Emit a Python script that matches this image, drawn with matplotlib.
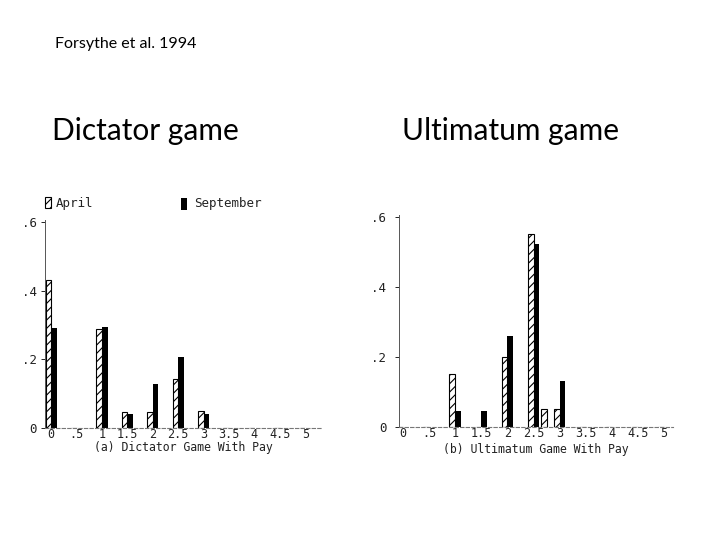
import matplotlib
matplotlib.use("Agg")
import matplotlib.pyplot as plt
from matplotlib.patches import Rectangle

# Data
offers_d = [0, 0.5, 1, 1.5, 2, 2.5, 3, 3.5, 4, 4.5, 5]
april_d = [0.43, 0, 0.288, 0.047, 0.048, 0.143, 0.05, 0, 0, 0, 0]
sept_d = [0.29, 0, 0.293, 0.04, 0.128, 0.207, 0.04, 0, 0, 0, 0]

offers_u = [0, 0.5, 1, 1.5, 2, 2.5, 2.75, 3, 3.5, 4, 4.5, 5]
april_u = [0, 0, 0.152, 0, 0.201, 0.551, 0.051, 0.051, 0, 0, 0, 0]
sept_u = [0, 0, 0.047, 0.047, 0.261, 0.522, 0, 0.132, 0, 0, 0, 0]

xticks = [0, 0.5, 1, 1.5, 2, 2.5, 3, 3.5, 4, 4.5, 5]
xticklabels = ["0", ".5", "1", "1.5", "2", "2.5", "3", "3.5", "4", "4.5", "5"]
yticks = [0, 0.2, 0.4, 0.6]
yticklabels = ["0", ".2", ".4", ".6"]

plt.rcParams['hatch.linewidth'] = 0.8
mono = "DejaVu Sans Mono"
W = 0.11

fig = plt.figure(figsize=(7.2, 5.4), dpi=100)

def panel(rect, xlim, offers, apr, sep, xlabel, ypad, lpad):
    ax = fig.add_axes(rect)
    ax.bar(offers, apr, width=-W, align='edge', facecolor='white',
           edgecolor='black', hatch='////', linewidth=0.8)
    ax.bar(offers, sep, width=W, align='edge', color='black', linewidth=0)
    ax.set_xlim(*xlim)
    ax.set_ylim(0, 0.605)
    ax.set_xticks(xticks)
    ax.set_xticklabels(xticklabels, family=mono, fontsize=8.5, color='#222222')
    ax.set_yticks(yticks)
    ax.set_yticklabels(yticklabels, family=mono, fontsize=9, color='#222222')
    ax.tick_params(axis='x', length=0, pad=0)
    ax.tick_params(axis='y', length=3, width=0.6, pad=ypad)
    for s in ['top', 'right']:
        ax.spines[s].set_visible(False)
    ax.spines['left'].set_linewidth(0.7)
    ax.spines['left'].set_color('#555555')
    ax.spines['bottom'].set_linewidth(0.8)
    ax.spines['bottom'].set_linestyle((0, (3, 2)))
    ax.spines['bottom'].set_color('#777777')
    ax.set_xlabel(xlabel, family=mono, fontsize=8.3, labelpad=lpad, color='#222222')
    ax.set_facecolor('none')
    return ax

panel([45/720, 1 - 428/540, 277/720, 207.7/540], (-0.12, 5.33),
      offers_d, april_d, sept_d, "(a) Dictator Game With Pay", 3, 0)
panel([399/720, 1 - 427/540, 274/720, 211.7/540], (-0.077, 5.17),
      offers_u, april_u, sept_u, "(b) Ultimatum Game With Pay", 6, 2.5)

# Legend (left panel)
fig.patches.append(Rectangle((45/720, 1 - 208/540), 6/720, 11/540, transform=fig.transFigure,
                             facecolor='white', edgecolor='black', hatch='////', linewidth=0.8))
fig.text(56/720, 1 - 203/540, "April", family=mono, fontsize=9, va='center', color='#222222')
fig.patches.append(Rectangle((181/720, 1 - 210/540), 6/720, 12/540, transform=fig.transFigure,
                             facecolor='black', edgecolor='black', linewidth=0))
fig.text(194/720, 1 - 203/540, "September", family=mono, fontsize=9, va='center', color='#222222')

# Slide titles
fig.text(55/720, 1 - 44/540, "Forsythe et al. 1994", family="Lato", fontsize=11.5, va='center')
fig.text(52/720, 1 - 140/540, "Dictator game", family="Lato", fontsize=21.5, va='baseline')
fig.text(402/720, 1 - 140/540, "Ultimatum game", family="Lato", fontsize=21.5, va='baseline')

fig.savefig("out.png", dpi=100)
